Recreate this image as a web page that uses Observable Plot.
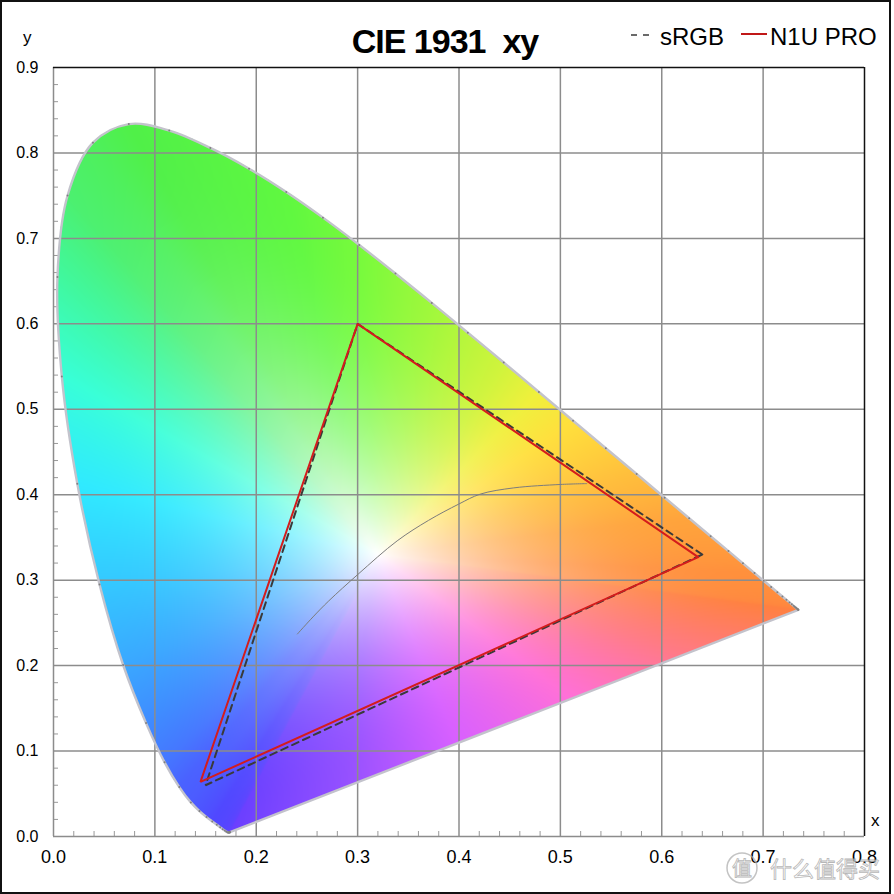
<!DOCTYPE html>
<html><head><meta charset="utf-8">
<script src="https://cdn.jsdelivr.net/npm/d3@7"></script>
<script src="https://cdn.jsdelivr.net/npm/@observablehq/plot@0.6"></script>
<style>
html,body{margin:0;padding:0;background:#fff;}
#wrap{position:relative;width:894px;height:894px;overflow:hidden;font-family:"Liberation Sans",Arial,Helvetica,sans-serif;}
#chart{position:absolute;left:0;top:0;}
#over{position:absolute;left:0;top:0;pointer-events:none;}
#border{position:absolute;left:0;top:0;width:891px;height:894px;box-sizing:border-box;border:2px solid #111;pointer-events:none;}
</style></head>
<body><div id="wrap"><div id="chart"></div><svg id="over" width="894" height="894"></svg><div id="border"></div></div>
<script>
// ---- data ----
const wavelengths = [380,385,390,395,400,405,410,415,420,425,430,435,440,445,450,455,460,465,470,475,480,485,490,495,500,505,510,515,520,525,530,535,540,545,550,555,560,565,570,575,580,585,590,595,600,605,610,615,620,625,630,635,640,645,650,655,660,665,670,675,680,685,690,695,700];
const locusX = [0.1741,0.1740,0.1738,0.1736,0.1733,0.1730,0.1726,0.1721,0.1714,0.1703,0.1689,0.1669,0.1644,0.1611,0.1566,0.1510,0.1440,0.1355,0.1241,0.1096,0.0913,0.0687,0.0454,0.0235,0.0082,0.0039,0.0139,0.0389,0.0743,0.1142,0.1547,0.1929,0.2296,0.2658,0.3016,0.3373,0.3731,0.4087,0.4441,0.4788,0.5125,0.5448,0.5752,0.6029,0.6270,0.6482,0.6658,0.6801,0.6915,0.7006,0.7079,0.7140,0.7190,0.7230,0.7260,0.7283,0.7300,0.7311,0.7320,0.7327,0.7334,0.7340,0.7344,0.7346,0.7347];
const locusY = [0.0050,0.0050,0.0049,0.0049,0.0048,0.0048,0.0048,0.0048,0.0051,0.0058,0.0069,0.0086,0.0109,0.0138,0.0177,0.0227,0.0297,0.0399,0.0578,0.0868,0.1327,0.2007,0.2950,0.4127,0.5384,0.6548,0.7502,0.8120,0.8338,0.8262,0.8059,0.7816,0.7543,0.7243,0.6923,0.6589,0.6245,0.5896,0.5547,0.5202,0.4866,0.4544,0.4242,0.3965,0.3725,0.3514,0.3340,0.3197,0.3083,0.2993,0.2920,0.2859,0.2809,0.2770,0.2740,0.2717,0.2700,0.2689,0.2680,0.2673,0.2666,0.2660,0.2656,0.2654,0.2653];

const gamutNames = ["sRGB", "N1U PRO"];
const srgbX = [0.640, 0.300, 0.150];
const srgbY = [0.330, 0.600, 0.060];
const n1uX  = [0.636, 0.300, 0.145];
const n1uY  = [0.327, 0.600, 0.064];

const planckX = [0.2406, 0.2560, 0.2715, 0.3005, 0.3390, 0.3700, 0.3997, 0.4210, 0.4540, 0.5000, 0.5260];
const planckY = [0.2370, 0.2570, 0.2757, 0.3070, 0.3460, 0.3700, 0.3890, 0.4007, 0.4080, 0.4120, 0.4130];

const xTicks = [0.0, 0.1, 0.2, 0.3, 0.4, 0.5, 0.6, 0.7, 0.8];
const yTicks = [0.0, 0.1, 0.2, 0.3, 0.4, 0.5, 0.6, 0.7, 0.8, 0.9];
const xGrid = [0.1, 0.2, 0.3, 0.4, 0.5, 0.6, 0.7];
const yGrid = [0.1, 0.2, 0.3, 0.4, 0.5, 0.6, 0.7, 0.8];
const xMinor = d3.range(0.02, 0.8, 0.02).filter(v => Math.abs(v * 10 - Math.round(v * 10)) > 1e-6);
const yMinor = d3.range(0.02, 0.9, 0.02).filter(v => Math.abs(v * 10 - Math.round(v * 10)) > 1e-6);

// ---- colour field styling (edge colours along the locus) ----
const edgeNm = [380, 450, 470, 480, 485, 490, 495, 500, 505, 510, 520, 540, 550, 560, 570, 575, 580, 590, 600, 620, 700];
const edgeColor = ["#6b3fff","#5048ff","#4a62ff","#3f8cff","#3aa8ff","#34c8ff","#30eaff","#38ffd8","#40f8a0","#4cf070","#50f048","#60f840","#78fa3c","#a0f83c","#d0f43c","#f0f03c","#ffe03c","#ffbe3c","#ffa43c","#ff903c","#ff8040"];
const purpleT = [0.2, 0.4, 0.6, 0.8];
const purpleColor = ["#ff7a86", "#ff70d8", "#d860ff", "#9450ff"];
const whitePoint = {x: 0.32, y: 0.33};
const KX = 1014, KY = 854.4; // pixel aspect used to match the drawn curve

function edgeColorAt(nm) {
  let i = d3.bisectRight(edgeNm, nm) - 1;
  if (i < 0) i = 0;
  if (i >= edgeNm.length - 1) return d3.rgb(edgeColor[edgeColor.length - 1]);
  const t = (nm - edgeNm[i]) / (edgeNm[i + 1] - edgeNm[i]);
  return d3.rgb(d3.interpolateRgb(edgeColor[i], edgeColor[i + 1])(t));
}

// polygon for colours
const boundary = wavelengths.map((w, i) => ({x: locusX[i], y: locusY[i], c: edgeColorAt(w)}));
{
  const a = boundary[boundary.length - 1], b = boundary[0];
  purpleT.forEach((t, k) => boundary.push({x: a.x + (b.x - a.x) * t, y: a.y + (b.y - a.y) * t, c: d3.rgb(purpleColor[k])}));
}
// smooth outline (same catmull-rom curve as the drawn locus line) for the clip radius
const smooth = [];
{
  let cx = 0, cy = 0;
  const ctx = {
    moveTo(x, y) { smooth.push({x: x / KX, y: y / KY}); cx = x; cy = y; },
    lineTo(x, y) { smooth.push({x: x / KX, y: y / KY}); cx = x; cy = y; },
    bezierCurveTo(x1, y1, x2, y2, x, y) {
      for (let i = 1; i <= 10; ++i) {
        const t = i / 10, m = 1 - t;
        const px = m*m*m*cx + 3*m*m*t*x1 + 3*m*t*t*x2 + t*t*t*x;
        const py = m*m*m*cy + 3*m*m*t*y1 + 3*m*t*t*y2 + t*t*t*y;
        smooth.push({x: px / KX, y: py / KY});
      }
      cx = x; cy = y;
    },
    closePath() {}
  };
  d3.line().curve(d3.curveCatmullRom).context(ctx)(locusX.map((x, i) => [x * KX, locusY[i] * KY]));
}

function castRay(poly, dx, dy, withColor) {
  let best = Infinity, bc = null;
  for (let j = 0; j < poly.length; ++j) {
    const P = poly[j], Q = poly[(j + 1) % poly.length];
    const ex = Q.x - P.x, ey = Q.y - P.y;
    const den = dx * ey - dy * ex;
    if (Math.abs(den) < 1e-14) continue;
    const wx = P.x - whitePoint.x, wy = P.y - whitePoint.y;
    const t = (wx * ey - wy * ex) / den;
    const u = (wx * dy - wy * dx) / den;
    if (t > 0 && u >= -1e-9 && u <= 1 + 1e-9 && t < best) {
      best = t;
      if (withColor) {
        const uu = Math.max(0, Math.min(1, u));
        bc = [P.c.r + (Q.c.r - P.c.r) * uu, P.c.g + (Q.c.g - P.c.g) * uu, P.c.b + (Q.c.b - P.c.b) * uu];
      }
    }
  }
  return [best, bc];
}

const NB = 4096;
const lutR = new Float64Array(NB), lutS = new Float64Array(NB), lutC = new Array(NB);
for (let k = 0; k < NB; ++k) {
  const th = -Math.PI + (k + 0.5) * 2 * Math.PI / NB;
  const dx = Math.cos(th), dy = Math.sin(th);
  const [r, c] = castRay(boundary, dx, dy, true);
  const [rs] = castRay(smooth, dx, dy, false);
  lutR[k] = r; lutC[k] = c || [255, 255, 255];
  lutS[k] = Math.max(rs === Infinity ? r : rs, r);
}

function chromaColor(x, y) {
  const dx = x - whitePoint.x, dy = y - whitePoint.y;
  const r = Math.hypot(dx, dy);
  let k = Math.floor((Math.atan2(dy, dx) + Math.PI) / (2 * Math.PI) * NB);
  if (k < 0) k = 0; if (k >= NB) k = NB - 1;
  if (!(r <= lutS[k])) return null;
  const s = Math.min(1, r / lutR[k]);
  const f = 1 - Math.pow(1 - s, 2.2);
  const c = lutC[k];
  return `rgb(${Math.round(255 + (c[0] - 255) * f)},${Math.round(255 + (c[1] - 255) * f)},${Math.round(255 + (c[2] - 255) * f)})`;
}

// ---- tables for marks ----
const locus = wavelengths.map((w, i) => ({w, x: locusX[i], y: locusY[i]}));
const purpleLine = [locus[locus.length - 1], locus[0]];
const tri = (X, Y) => { const a = X.map((x, i) => ({x, y: Y[i]})); return [...a, a[0]]; };
const srgb = tri(srgbX, srgbY);
const n1u = tri(n1uX, n1uY);
const planck = planckX.map((x, i) => ({x, y: planckY[i]}));

const gridColor = "#8c8c8c";
const outline = "#c3c3cc";
const chart = Plot.plot({
  width: 894, height: 894,
  marginLeft: 53, marginRight: 30, marginTop: 67, marginBottom: 58,
  style: {fontFamily: "'Liberation Sans', Arial, Helvetica, sans-serif", color: "#000", background: "transparent"},
  x: {domain: [0, 0.8]},
  y: {domain: [0, 0.9]},
  marks: [
    Plot.raster({x1: 0, x2: 0.8, y1: 0, y2: 0.9, fill: chromaColor, pixelSize: 1}),
    Plot.ruleX(xGrid, {stroke: gridColor, strokeWidth: 1.5}),
    Plot.ruleY(yGrid, {stroke: gridColor, strokeWidth: 1.5}),
    Plot.ruleX(xMinor, {x: d => d, y1: 0, y2: 0, insetTop: -5, stroke: "#999", strokeWidth: 1}),
    Plot.ruleY(yMinor, {y: d => d, x1: 0, x2: 0, insetRight: -5, stroke: "#999", strokeWidth: 1}),
    Plot.ruleX([0], {stroke: "#8c8c8c", strokeWidth: 1.5}),
    Plot.ruleY([0], {stroke: "#8c8c8c", strokeWidth: 1.5}),
    Plot.ruleY([0.9], {stroke: "#111", strokeWidth: 1.5}),
    Plot.ruleX([0.8], {stroke: "#111", strokeWidth: 1.5}),
    Plot.line(locus, {x: "x", y: "y", stroke: outline, strokeWidth: 2.4, curve: "catmull-rom"}),
    Plot.line(purpleLine, {x: "x", y: "y", stroke: outline, strokeWidth: 2.4}),
    Plot.dot(locus, {x: "x", y: "y", r: 1, fill: "#808080"}),
    Plot.line(planck, {x: "x", y: "y", stroke: "#7c7c7c", strokeWidth: 1, curve: "catmull-rom"}),
    Plot.line(srgb, {x: "x", y: "y", stroke: "#3a3a3a", strokeWidth: 2, strokeDasharray: "7,5", strokeLinejoin: "miter"}),
    Plot.line(n1u, {x: "x", y: "y", stroke: "#d41c1c", strokeWidth: 2, strokeLinejoin: "miter"}),
    Plot.axisX(xTicks, {tickSize: 0, tickPadding: 14, fontSize: 18, tickFormat: d => d.toFixed(1), label: null}),
    Plot.axisY(yTicks, {tickSize: 0, tickPadding: 15, fontSize: 16, tickFormat: d => d.toFixed(1), label: null})
  ]
});
document.getElementById("chart").appendChild(chart);

// ---- title, legend, axis names, watermark ----
const over = d3.select("#over").style("font-family", "'Liberation Sans', Arial, Helvetica, sans-serif");
over.append("text").attr("x", 445).attr("y", 52.5).attr("text-anchor", "middle")
  .attr("font-size", 34).attr("font-weight", "bold").attr("letter-spacing", "-1px")
  .attr("xml:space", "preserve").style("white-space", "pre").text("CIE 1931  xy");
// legend
over.append("line").attr("x1", 631).attr("x2", 652).attr("y1", 35).attr("y2", 35)
  .attr("stroke", "#3a3a3a").attr("stroke-width", 1.6).attr("stroke-dasharray", "6,6");
over.append("text").attr("x", 660).attr("y", 44.5).attr("font-size", 24).text(gamutNames[0]);
over.append("line").attr("x1", 741).attr("x2", 767).attr("y1", 34).attr("y2", 34)
  .attr("stroke", "#c01818").attr("stroke-width", 2);
over.append("text").attr("x", 770).attr("y", 44.5).attr("font-size", 24).text(gamutNames[1]);
// axis names
over.append("text").attr("x", 23).attr("y", 43).attr("font-size", 17).text("y");
over.append("text").attr("x", 871).attr("y", 826).attr("font-size", 17).text("x");
// watermark
const wm = over.append("g").attr("opacity", 0.75);
wm.append("circle").attr("cx", 742).attr("cy", 868).attr("r", 15).attr("fill", "none").attr("stroke", "#b0b0b0").attr("stroke-width", 1.5);
wm.append("text").attr("x", 742).attr("y", 876).attr("text-anchor", "middle").attr("font-size", 20)
  .attr("font-family", "'Noto Sans CJK SC'").attr("fill", "#fff").attr("stroke", "#a0a0a0").attr("stroke-width", 0.8).text("值");
wm.append("text").attr("x", 770).attr("y", 877).attr("font-size", 22)
  .attr("font-family", "'Noto Sans CJK SC'").attr("fill", "#fff").attr("stroke", "#a0a0a0").attr("stroke-width", 0.8).text("什么值得买");
</script>
</body></html>
